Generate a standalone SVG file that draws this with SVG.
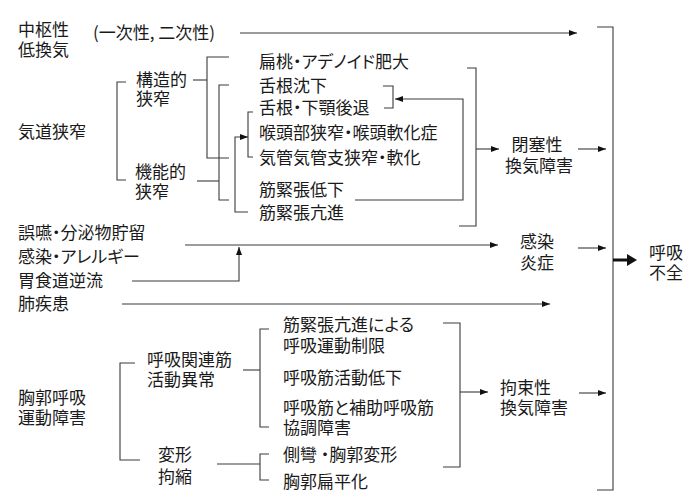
<svg xmlns="http://www.w3.org/2000/svg" width="693" height="503" viewBox="0 0 693 503">
<style>
text{font-family:"Noto Sans CJK JP","Noto Sans",sans-serif;font-size:17px;fill:#1a1a1a;font-feature-settings:"palt"}
.c{fill:none;stroke:#3a3a3a;stroke-width:1.1}
.b{fill:none;stroke:#111;stroke-width:3}
</style>
<defs>
<marker id="ah" markerUnits="userSpaceOnUse" markerWidth="8" markerHeight="6" refX="8" refY="3" orient="auto"><path d="M0,0 L8,3 L0,6 z" fill="#111"/></marker>
</defs>
<rect width="693" height="503" fill="#fff"/>
<g id="connectors">
<path class="c" d="M240,33 H577" marker-end="url(#ah)"/>
<path class="c" d="M597,27 H613 V490 H597"/>
<path class="b" d="M613,260 H630"/>
<path d="M627,254 L637,260 L627,266 z" fill="#111"/>
<path class="c" d="M126,82 H117 V180 H126"/>
<path class="c" d="M193,80 H207"/>
<path class="c" d="M229,57 H207 V158 H229"/>
<path class="c" d="M197,181 H219"/>
<path class="c" d="M229,85 H219 V200 H229"/>
<path class="c" d="M248,212 H235 V137 H248" marker-end="url(#ah)"/>
<path class="c" d="M253,112 H248 V157 H253"/>
<path class="c" d="M383,86 H393 V108 H384"/>
<path class="c" d="M355,200 H463 V99 H395" marker-end="url(#ah)"/>
<path class="c" d="M467,68 H476 V226 H459"/>
<path class="c" d="M476,149 H499" marker-end="url(#ah)"/>
<path class="c" d="M578,149 H606" marker-end="url(#ah)"/>
<path class="c" d="M185,245 H498" marker-end="url(#ah)"/>
<path class="c" d="M578,248 H606" marker-end="url(#ah)"/>
<path class="c" d="M132,281 H239 V247" marker-end="url(#ah)"/>
<path class="c" d="M122,304 H550" marker-end="url(#ah)"/>
<path class="c" d="M135,363 H120 V460 H140"/>
<path class="c" d="M243,370 H260"/>
<path class="c" d="M269,329 H260 V427 H269"/>
<path class="c" d="M217,464 H260"/>
<path class="c" d="M269,454 H260 V480 H269"/>
<path class="c" d="M443,323 H460 V467 H443"/>
<path class="c" d="M460,392 H488" marker-end="url(#ah)"/>
<path class="c" d="M579,393 H606" marker-end="url(#ah)"/>
</g>
<g id="central"><text x="18" y="36">中枢性<tspan x="18" dy="20">低換気</tspan></text></g>
<g id="central-type"><text x="93" y="39">(一次性, 二次性)</text></g>
<g id="airway"><text x="18" y="138">気道狭窄</text></g>
<g id="structural"><text x="136" y="86">構造的<tspan x="136" dy="19">狭窄</tspan></text></g>
<g id="functional"><text x="135" y="178">機能的<tspan x="135" dy="20">狭窄</tspan></text></g>
<g id="tonsil"><text x="259" y="68">扁桃・アデノイド肥大</text></g>
<g id="glossoptosis"><text x="259" y="92">舌根沈下</text></g>
<g id="retrognathia"><text x="259" y="114">舌根・下顎後退</text></g>
<g id="larynx"><text x="259" y="139">喉頭部狭窄・喉頭軟化症</text></g>
<g id="trachea"><text x="259" y="164">気管気管支狭窄・軟化</text></g>
<g id="hypotonia"><text x="259" y="196">筋緊張低下</text></g>
<g id="hypertonia"><text x="259" y="219">筋緊張亢進</text></g>
<g id="obstructive"><text x="537" y="151" text-anchor="middle">閉塞性<tspan x="539" dy="21">換気障害</tspan></text></g>
<g id="aspiration"><text x="18" y="239">誤嚥・分泌物貯留</text></g>
<g id="allergy"><text x="18" y="263">感染・アレルギー</text></g>
<g id="gerd"><text x="18" y="287">胃食道逆流</text></g>
<g id="lung"><text x="18" y="310">肺疾患</text></g>
<g id="infection"><text x="537" y="248" text-anchor="middle">感染<tspan x="537" dy="21">炎症</tspan></text></g>
<g id="failure"><text x="649" y="259">呼吸<tspan x="649" dy="20">不全</tspan></text></g>
<g id="thorax"><text x="18" y="404">胸郭呼吸<tspan x="18" dy="20">運動障害</tspan></text></g>
<g id="muscle"><text x="147" y="366">呼吸関連筋<tspan x="147" dy="20">活動異常</tspan></text></g>
<g id="deform"><text x="158" y="461">変形<tspan x="158" dy="22">拘縮</tspan></text></g>
<g id="m1"><text x="283" y="331">筋緊張亢進による<tspan x="283" dy="21">呼吸運動制限</tspan></text></g>
<g id="m2"><text x="283" y="384">呼吸筋活動低下</text></g>
<g id="m3"><text x="283" y="414">呼吸筋と補助呼吸筋<tspan x="283" dy="20">協調障害</tspan></text></g>
<g id="d1"><text x="283" y="461">側彎 ・胸郭変形</text></g>
<g id="d2"><text x="283" y="488">胸郭扁平化</text></g>
<g id="restrictive"><text x="500" y="394">拘束性<tspan x="500" dy="20">換気障害</tspan></text></g>
</svg>
